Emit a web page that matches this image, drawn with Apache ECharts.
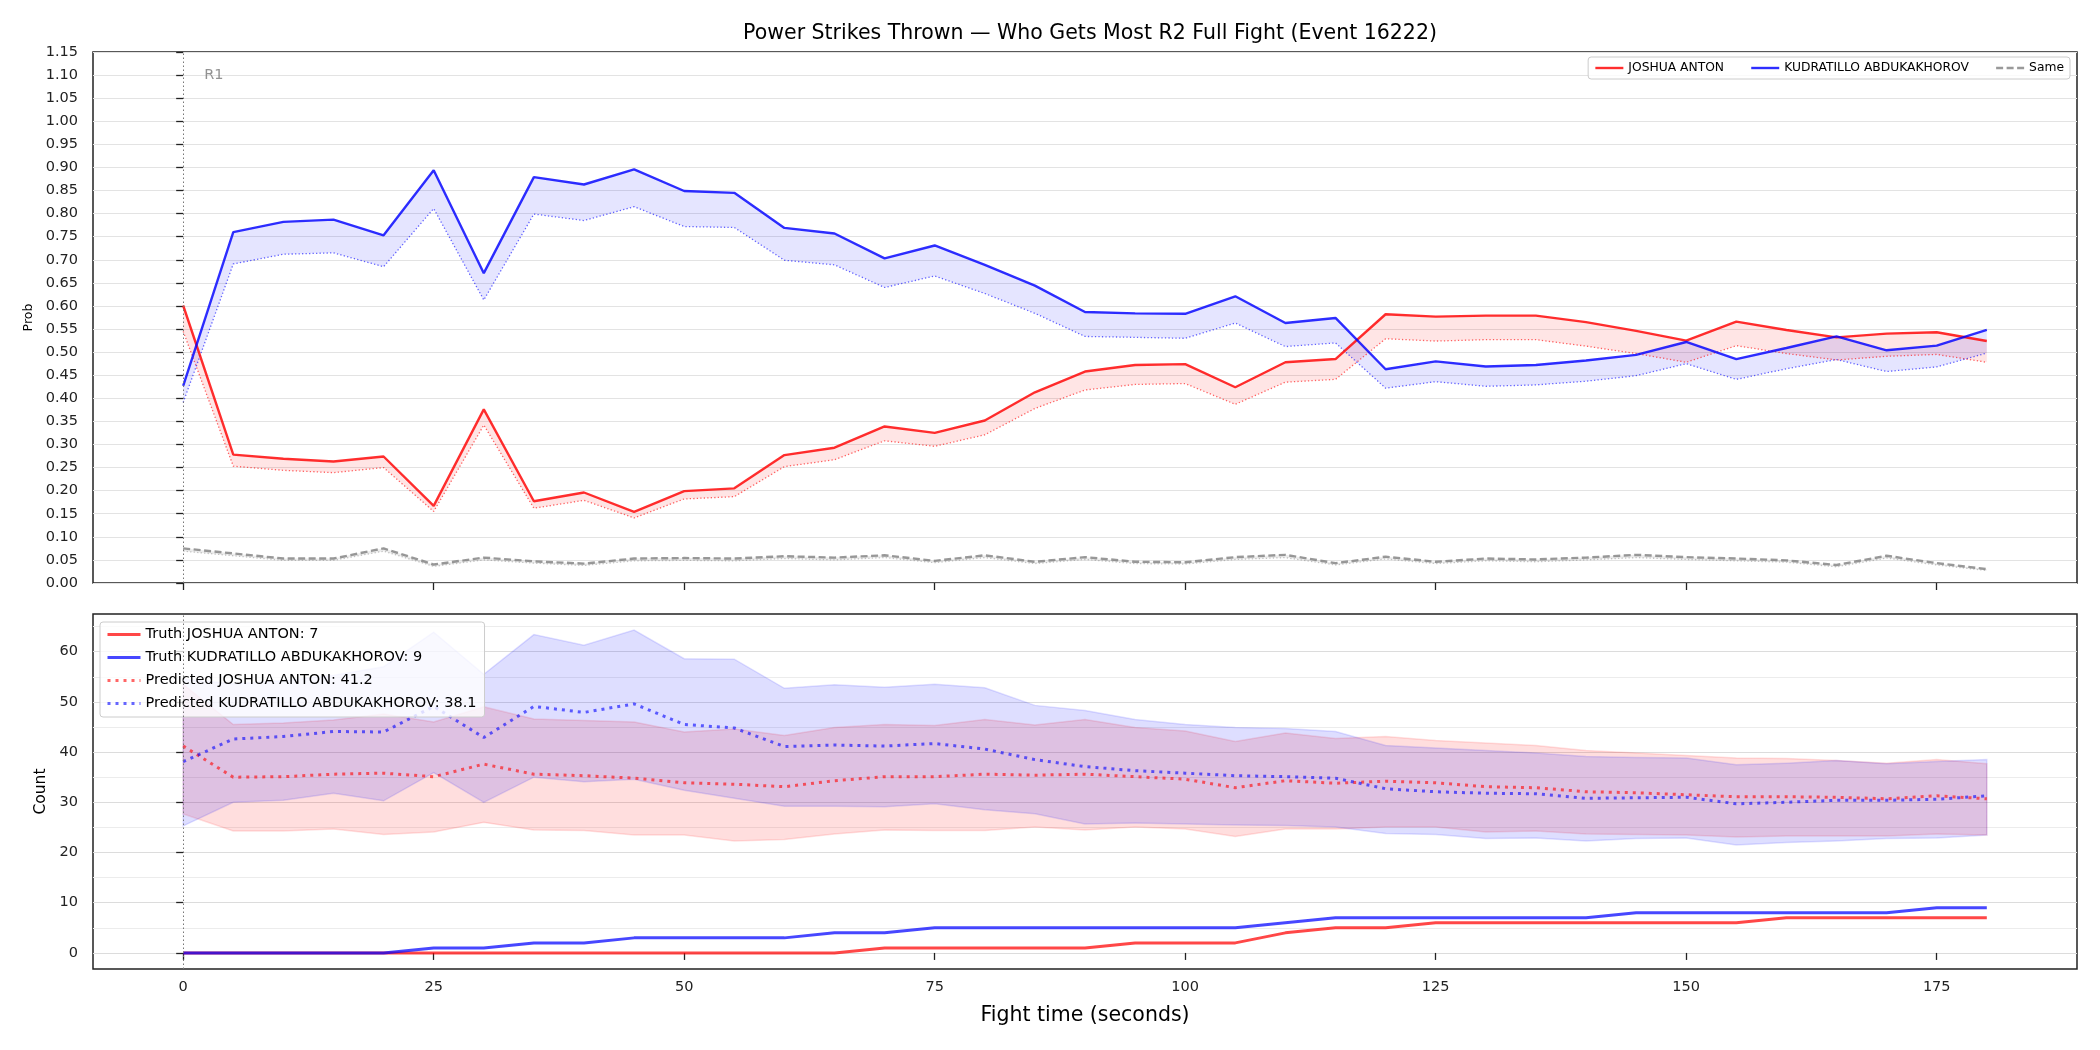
<!DOCTYPE html>
<html>
<head>
<meta charset="utf-8">
<title>Power Strikes Thrown</title>
<script src="https://cdn.jsdelivr.net/npm/echarts@6/dist/echarts.min.js"></script>
<style>
  html, body { margin: 0; padding: 0; background: #fff; }
  #chart { width: 2100px; height: 1050px; }
</style>
</head>
<body>
<div id="chart"></div>
<script>
// fight time in seconds
const times = [0, 5, 10, 15, 20, 25, 30, 35, 40, 45, 50, 55, 60, 65, 70, 75, 80, 85, 90,
  95, 100, 105, 110, 115, 120, 125, 130, 135, 140, 145, 150, 155, 160, 165, 170, 175, 180];
const xTicks = [0, 25, 50, 75, 100, 125, 150, 175];
const countTicks = [0, 10, 20, 30, 40, 50, 60];
const countMinorGrid = [5, 15, 25, 35, 45, 55, 65];
const roundStarts = [0];
const roundNames = ['R1'];

const fighterA = 'JOSHUA ANTON';
const fighterB = 'KUDRATILLO ABDUKAKHOROV';

// top panel: probabilities (solid) and their lower edge (dotted)
const probA = [0.601, 0.278, 0.269, 0.263, 0.274, 0.167, 0.376, 0.177, 0.196, 0.154, 0.199, 0.205,
  0.277, 0.293, 0.339, 0.325, 0.352, 0.413, 0.458, 0.472, 0.474, 0.424, 0.478, 0.485, 0.582, 0.577,
  0.579, 0.579, 0.565, 0.546, 0.525, 0.566, 0.548, 0.532, 0.540, 0.543, 0.524];
const probALow = [0.545, 0.253, 0.244, 0.239, 0.250, 0.155, 0.342, 0.162, 0.179, 0.141, 0.182, 0.187,
  0.252, 0.267, 0.308, 0.296, 0.321, 0.378, 0.418, 0.430, 0.432, 0.387, 0.435, 0.441, 0.529, 0.524,
  0.527, 0.527, 0.513, 0.497, 0.478, 0.514, 0.497, 0.483, 0.491, 0.495, 0.478];
const probB = [0.427, 0.760, 0.782, 0.787, 0.753, 0.894, 0.671, 0.879, 0.863, 0.896, 0.849, 0.845,
  0.769, 0.757, 0.703, 0.731, 0.689, 0.644, 0.587, 0.584, 0.583, 0.621, 0.563, 0.574, 0.463, 0.480,
  0.469, 0.472, 0.482, 0.494, 0.522, 0.485, 0.509, 0.534, 0.504, 0.514, 0.548];
const probBLow = [0.391, 0.691, 0.712, 0.715, 0.685, 0.811, 0.613, 0.799, 0.785, 0.815, 0.772, 0.770,
  0.699, 0.689, 0.640, 0.665, 0.627, 0.584, 0.534, 0.532, 0.530, 0.563, 0.512, 0.520, 0.422, 0.436,
  0.426, 0.429, 0.437, 0.449, 0.475, 0.441, 0.464, 0.484, 0.458, 0.468, 0.498];
const probSame = [0.075, 0.064, 0.053, 0.053, 0.075, 0.040, 0.055, 0.047, 0.042, 0.053, 0.054, 0.053,
  0.058, 0.055, 0.060, 0.048, 0.060, 0.046, 0.056, 0.046, 0.045, 0.056, 0.061, 0.043, 0.057, 0.046,
  0.053, 0.051, 0.055, 0.061, 0.056, 0.053, 0.049, 0.039, 0.059, 0.043, 0.030];
const probSameLow = [0.069, 0.059, 0.049, 0.049, 0.069, 0.036, 0.050, 0.043, 0.038, 0.048, 0.049, 0.048,
  0.053, 0.050, 0.055, 0.044, 0.055, 0.042, 0.051, 0.042, 0.041, 0.051, 0.055, 0.039, 0.052, 0.042,
  0.048, 0.046, 0.050, 0.055, 0.051, 0.048, 0.045, 0.035, 0.054, 0.039, 0.027];

// bottom panel: counts
const truthA = [0, 0, 0, 0, 0, 0, 0, 0, 0, 0, 0, 0, 0, 0, 1, 1, 1, 1, 1, 2, 2, 2, 4, 5, 5, 6,
  6, 6, 6, 6, 6, 6, 7, 7, 7, 7, 7];
const truthB = [0, 0, 0, 0, 0, 1, 1, 2, 2, 3, 3, 3, 3, 4, 4, 5, 5, 5, 5, 5, 5, 5, 6, 7, 7, 7,
  7, 7, 7, 8, 8, 8, 8, 8, 8, 9, 9];
const predA = [41.2, 35.0, 35.1, 35.6, 35.8, 35.1, 37.6, 35.6, 35.3, 34.8, 33.9, 33.6, 33.1, 34.3,
  35.1, 35.1, 35.6, 35.4, 35.6, 35.1, 34.6, 32.9, 34.3, 33.8, 34.2, 33.9, 33.1, 32.9, 32.1, 31.9,
  31.5, 31.1, 31.1, 31.0, 30.7, 31.3, 30.7];
const predAHigh = [53.5, 45.5, 45.8, 46.4, 47.6, 46.0, 49.0, 46.6, 46.3, 46.0, 44.0, 44.6, 43.3, 44.9,
  45.5, 45.3, 46.5, 45.4, 46.5, 44.9, 44.2, 42.1, 43.8, 42.7, 43.1, 42.3, 41.8, 41.3, 40.3, 39.8,
  39.3, 38.8, 38.7, 38.3, 37.8, 38.5, 37.7];
const predALow = [27.7, 24.3, 24.3, 24.7, 23.6, 24.1, 26.0, 24.5, 24.4, 23.5, 23.5, 22.3, 22.6, 23.7,
  24.5, 24.4, 24.4, 25.1, 24.5, 25.1, 24.7, 23.2, 24.7, 24.7, 25.1, 25.1, 24.1, 24.3, 23.7, 23.6,
  23.5, 23.1, 23.3, 23.3, 23.3, 23.7, 23.5];
const predB = [38.1, 42.6, 43.1, 44.1, 44.0, 49.1, 42.9, 49.1, 47.9, 49.6, 45.5, 44.8, 41.1, 41.4,
  41.2, 41.7, 40.6, 38.5, 37.1, 36.3, 35.8, 35.3, 35.1, 34.8, 32.7, 32.1, 31.8, 31.7, 30.8, 30.9,
  31.0, 29.7, 30.0, 30.4, 30.4, 30.6, 31.3];
const predBHigh = [54.5, 53.6, 54.2, 55.3, 57.0, 63.9, 55.5, 63.4, 61.3, 64.3, 58.6, 58.5, 52.7, 53.4,
  52.9, 53.5, 52.8, 49.3, 48.3, 46.5, 45.5, 44.9, 44.7, 44.1, 41.3, 40.8, 40.3, 39.8, 39.1, 38.9,
  38.8, 37.5, 37.8, 38.3, 37.7, 38.1, 38.5];
const predBLow = [25.3, 30.0, 30.4, 31.8, 30.3, 35.9, 30.0, 35.0, 34.1, 34.6, 32.4, 30.8, 29.2, 29.2,
  29.1, 29.7, 28.5, 27.7, 25.7, 25.9, 25.7, 25.5, 25.4, 25.1, 23.8, 23.6, 22.8, 22.9, 22.3, 22.8,
  22.9, 21.5, 22.0, 22.3, 22.8, 22.9, 23.5];

const FONT = 'DejaVu Sans';

function pairs(vals) {
  return times.map((t, i) => [t, vals[i]]);
}

// filled band between two curves, drawn as one polygon in data coordinates
function band(xi, yi, upper, lower, fill, stroke) {
  return {
    type: 'custom',
    xAxisIndex: xi,
    yAxisIndex: yi,
    silent: true,
    z: 1,
    data: [[times[0], upper[0]]],
    renderItem: function (params, api) {
      const pts = [];
      for (let i = 0; i < times.length; i++) pts.push(api.coord([times[i], upper[i]]));
      for (let i = times.length - 1; i >= 0; i--) pts.push(api.coord([times[i], lower[i]]));
      return {
        type: 'polygon',
        shape: { points: pts },
        style: { fill: fill, stroke: stroke, lineWidth: stroke ? 1.5 : 0 }
      };
    }
  };
}

function line(name, xi, yi, vals, color, width, type, extra) {
  return Object.assign({
    name: name,
    type: 'line',
    xAxisIndex: xi,
    yAxisIndex: yi,
    data: pairs(vals),
    showSymbol: false,
    symbol: 'none',
    z: 3,
    lineStyle: { color: color, width: width, type: type },
    itemStyle: { color: color }
  }, extra || {});
}

const roundLine = {
  silent: true,
  symbol: ['none', 'none'],
  label: { show: false },
  lineStyle: { color: '#777', width: 1, type: [1.5, 2.5] },
  data: roundStarts.map(t => ({ xAxis: t }))
};

const tickStyle = { color: '#222', fontSize: 14.5, fontFamily: FONT };

// legend shows only the line, no marker
const legendBase = {
  backgroundColor: 'rgba(255,255,255,0.8)',
  borderColor: '#cccccc',
  borderWidth: 1,
  borderRadius: 3,
  itemStyle: { opacity: 0, borderWidth: 0 }
};

const chart = echarts.init(document.getElementById('chart'));
chart.setOption({
  animation: false,
  backgroundColor: '#fff',
  textStyle: { fontFamily: FONT },
  title: {
    text: 'Power Strikes Thrown \u2014 Who Gets Most R2 Full Fight (Event 16222)',
    left: 1085,
    top: 18,
    textAlign: 'center',
    textStyle: { fontSize: 20.5, fontWeight: 'normal', color: '#000', fontFamily: FONT }
  },
  grid: [
    { left: 93, right: 23, top: 52, height: 531, show: true, borderColor: '#222', borderWidth: 1.5, backgroundColor: 'transparent' },
    { left: 93, right: 23, top: 614, height: 355, show: true, borderColor: '#222', borderWidth: 1.5, backgroundColor: 'transparent' }
  ],
  legend: [
    Object.assign({
      data: [fighterA, fighterB, 'Same'],
      right: 30,
      top: 57,
      orient: 'horizontal',
      itemWidth: 28,
      itemHeight: 10,
      itemGap: 26,
      padding: [5, 6, 5, 6],
      lineStyle: { width: 2.4 },
      textStyle: { fontSize: 12.3, color: '#000', fontFamily: FONT }
    }, legendBase),
    Object.assign({
      data: [
        'Truth ' + fighterA + ': ' + truthA[truthA.length - 1],
        'Truth ' + fighterB + ': ' + truthB[truthB.length - 1],
        'Predicted ' + fighterA + ': ' + predA[0],
        'Predicted ' + fighterB + ': ' + predB[0]
      ],
      left: 100,
      top: 622,
      orient: 'vertical',
      itemWidth: 33,
      itemHeight: 14,
      itemGap: 8,
      padding: [5, 8, 6, 6],
      lineStyle: { width: 3 },
      textStyle: { fontSize: 14.5, color: '#000', fontFamily: FONT }
    }, legendBase)
  ],
  xAxis: [
    {
      type: 'value', gridIndex: 0, min: -9, max: 189,
      axisLine: { show: false },
      axisTick: { show: true, length: 7, customValues: xTicks, lineStyle: { color: '#222', width: 1.3 } },
      axisLabel: { show: false, customValues: xTicks },
      splitLine: { show: false }
    },
    {
      type: 'value', gridIndex: 1, min: -9, max: 189,
      axisLine: { show: false },
      axisTick: { show: true, length: 7, customValues: xTicks, lineStyle: { color: '#222', width: 1.3 } },
      axisLabel: Object.assign({ customValues: xTicks, margin: 11 }, tickStyle),
      splitLine: { show: false },
      name: 'Fight time (seconds)',
      nameLocation: 'middle',
      nameGap: 36,
      nameTextStyle: { fontSize: 20.5, color: '#000', fontFamily: FONT }
    }
  ],
  yAxis: [
    {
      type: 'value', gridIndex: 0, min: 0, max: 1.15, interval: 0.05,
      axisLine: { show: false },
      axisTick: { show: true, length: 7, lineStyle: { color: '#222', width: 1.3 } },
      axisLabel: Object.assign({ margin: 15, formatter: v => v.toFixed(2) }, tickStyle),
      splitLine: { show: true, lineStyle: { color: '#e3e3e3', width: 1 } },
      name: 'Prob',
      nameLocation: 'middle',
      nameGap: 57,
      nameTextStyle: { fontSize: 12.5, color: '#000', fontFamily: FONT }
    },
    {
      type: 'value', gridIndex: 1, min: -3.2, max: 67.5,
      axisLine: { show: false },
      axisTick: { show: true, length: 7, customValues: countTicks, lineStyle: { color: '#222', width: 1.3 } },
      axisLabel: Object.assign({ margin: 15, customValues: countTicks }, tickStyle),
      splitLine: { show: true, lineStyle: { color: '#dcdcdc', width: 1 } },
      name: 'Count',
      nameLocation: 'middle',
      nameGap: 42,
      nameTextStyle: { fontSize: 15.5, color: '#000', fontFamily: FONT }
    },
    {
      type: 'value', gridIndex: 1, min: -3.2, max: 67.5, position: 'left',
      axisLine: { show: false },
      axisTick: { show: false, customValues: countMinorGrid },
      axisLabel: { show: false },
      splitLine: { show: true, lineStyle: { color: '#ececec', width: 1 } }
    }
  ],
  series: [
    // top panel
    band(0, 0, probA, probALow, 'rgba(255,0,0,0.1)', null),
    band(0, 0, probB, probBLow, 'rgba(0,0,255,0.1)', null),
    band(0, 0, probSame, probSameLow, 'rgba(128,128,128,0.15)', null),
    line(fighterA + ' low', 0, 0, probALow, 'rgba(255,0,0,0.6)', 1.3, [1.3, 2.2]),
    line(fighterB + ' low', 0, 0, probBLow, 'rgba(0,0,255,0.6)', 1.3, [1.3, 2.2]),
    line('Same low', 0, 0, probSameLow, 'rgba(128,128,128,0.45)', 1.3, [1.3, 2.2]),
    line(fighterA, 0, 0, probA, 'rgba(255,0,0,0.82)', 2.4, 'solid', { markLine: roundLine }),
    line(fighterB, 0, 0, probB, 'rgba(0,0,255,0.82)', 2.4, 'solid'),
    line('Same', 0, 0, probSame, 'rgba(128,128,128,0.8)', 2.4, [7, 3.5]),
    {
      name: 'round label',
      type: 'scatter',
      xAxisIndex: 0,
      yAxisIndex: 0,
      symbolSize: 0,
      silent: true,
      data: roundStarts.map((t, i) => ({ value: [t, 1.10], name: roundNames[i] })),
      label: {
        show: true,
        position: 'right',
        distance: 21,
        formatter: p => p.name,
        color: '#777',
        fontSize: 14.5,
        fontFamily: FONT
      }
    },
    // bottom panel
    band(1, 1, predAHigh, predALow, 'rgba(255,0,0,0.13)', 'rgba(255,0,0,0.12)'),
    band(1, 1, predBHigh, predBLow, 'rgba(0,0,255,0.13)', 'rgba(0,0,255,0.12)'),
    line('Truth ' + fighterA + ': ' + truthA[truthA.length - 1], 1, 1, truthA, 'rgba(255,0,0,0.72)', 3, 'solid', { markLine: roundLine }),
    line('Truth ' + fighterB + ': ' + truthB[truthB.length - 1], 1, 1, truthB, 'rgba(0,0,255,0.72)', 3, 'solid'),
    line('Predicted ' + fighterA + ': ' + predA[0], 1, 1, predA, 'rgba(255,0,0,0.6)', 3, [3, 5]),
    line('Predicted ' + fighterB + ': ' + predB[0], 1, 1, predB, 'rgba(0,0,255,0.6)', 3, [3, 5])
  ]
});
</script>
</body>
</html>
